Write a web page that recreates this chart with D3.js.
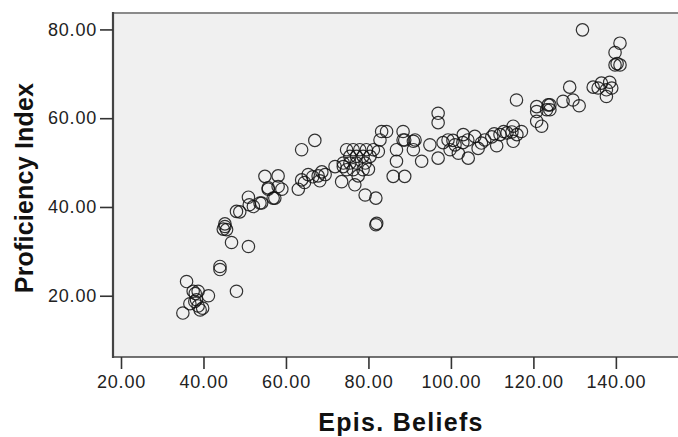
<!DOCTYPE html>
<html>
<head>
<meta charset="utf-8">
<script src="https://cdn.jsdelivr.net/npm/d3@7"></script>
<style>
  body { margin: 0; background: #fff; }
  text { font-family: "Liberation Sans", Arial, sans-serif; }
</style>
</head>
<body>
<div id="chart"></div>
<script>
// values: [Epis. Beliefs, Proficiency Index]
const lowGroup = [
  [35.9,23.2],[37.5,21],[38.7,21],[41.2,20],[35,16.1],[36.7,18.2],[37.9,18.7],[38.7,17.7],
  [39.8,17.2],[39.2,16.8],[38.3,19.1],[38.0,20.5],[48.0,21],[44,26.6],[44,25.9],[46.8,32],
  [50.9,31.1],[45.2,35.6],[45.6,34.9],[44.8,35],[45.2,36.2],[48,39],[48.8,38.9],[50.9,42.2],
  [51.1,40.5],[53.7,40.9],[56.9,42],[55.7,44.3],[58.1,44.6],[52.1,40.1],[54.1,40.9],[57.3,42],
  [59,44],[55.7,44],[54.9,46.9],[58.1,47]
]
const midGroup = [
  [63.8,52.9],[67,55],[63,44],[63.8,46.1],[65.4,47.3],[66.5,46.8],[67.8,47],[68.7,47.9],
  [69.5,47.3],[68.2,45.9],[64.5,45.5],[71.9,49.1],[73.9,49.1],[73.5,45.7],[76.7,45],[79.2,42.7],
  [81.8,42],[81.8,36],[82,36.3],
  [74.7,52.9],[76.3,52.9],[77.9,52.9],[79.5,52.9],[81.2,52.9],
  [75.5,51.4],[77.1,51.4],[78.7,51.4],[80.4,51.4],
  [73.9,49.9],[75.5,49.9],[77.1,49.9],[79.2,49.9],
  [74.7,48.4],[76.3,48.4],[78.7,48.4],[77.5,47],[80,48.5],
  [83.2,57],[84.4,57],[82.8,55.1],[82.4,52.5],
  [88.4,57],[86.8,52.9],[88.8,55.1],[86.8,50.3],[86,46.9],[88.8,46.9]
]
const highGroup = [
  [96.9,61.1],[96.9,59],[90.9,54.8],[88.4,55.1],[91.3,55.1],[90.9,52.9],[92.9,50.3],
  [94.9,54],[96.9,51],[98.1,54.5],[99.3,55.1],[101,54],[102.9,54.5],[104.1,55.1],[99.8,52.9],
  [100.5,55],[101.8,52.1],[104.2,51],[103,56.3],[105.8,55.9],[106.6,53.2],[107.4,54.4],
  [108.2,55.1],[109.9,55.8],[111.9,56.3],[113.6,56.7],[114.8,56.9],[116,56.3],[110.5,56.5],
  [112.8,57],[111.1,53.8],[115.1,54.8],[115.1,58.2],[117.1,57],[115.9,64.1],
  [120.8,62.6],[120.8,61.5],[123.6,63],[124,61.9],[120.8,59.3],[122,58.2],[127.2,63.8],
  [124,63],[123.2,61.9],[129.6,64.1],[131.1,62.8],[128.8,67],
  [131.9,79.9],[141,76.9],[139.8,74.8],[139.8,72],[141,72],[140.3,72.3],
  [134.5,67],[136.5,67.9],[138.5,68.1],[137.7,66.4],[137.7,64.9],[135.7,66.8],[139,66.8]
]
const xTicks = [20, 40, 60, 80, 100, 120, 140]
const yTicks = [20, 40, 60, 80]

const data = lowGroup.concat(midGroup, highGroup)

const W = 678, H = 437
const plotL = 113, plotT = 13, plotB = 357, plotR = 700

const svg = d3.select("#chart").append("svg")
    .attr("width", W)
    .attr("height", H)

const x = d3.scaleLinear().domain([18.06, 160.4]).range([plotL, plotR])
const y = d3.scaleLinear().domain([6.2, 83.7]).range([plotB, plotT])

// plot background
svg.append("rect")
    .attr("x", plotL).attr("y", plotT)
    .attr("width", plotR - plotL).attr("height", plotB - plotT)
    .attr("fill", "#f0f0f0")

// points
svg.append("g").selectAll("circle")
    .data(data)
    .enter().append("circle")
    .attr("cx", d => x(d[0]))
    .attr("cy", d => y(d[1]))
    .attr("r", 6.2)
    .attr("fill", "none")
    .attr("stroke", "#111")
    .attr("stroke-opacity", 0.85)
    .attr("stroke-width", 1.2)

// frame
svg.append("line").attr("x1", plotL).attr("x2", plotR).attr("y1", plotT).attr("y2", plotT)
    .attr("stroke", "#8a8a8a").attr("stroke-width", 2)
svg.append("line").attr("x1", plotL).attr("x2", plotR).attr("y1", plotB).attr("y2", plotB)
    .attr("stroke", "#444").attr("stroke-width", 1.6)
svg.append("line").attr("x1", plotL).attr("x2", plotL).attr("y1", plotT - 1).attr("y2", plotB + 1)
    .attr("stroke", "#444").attr("stroke-width", 2.2)

const fmt = d3.format(".2f")

const xAxis = svg.append("g")
    .attr("transform", `translate(0,${plotB})`)
    .call(d3.axisBottom(x).tickValues(xTicks).tickFormat(fmt).tickSize(12).tickPadding(6))
const yAxis = svg.append("g")
    .attr("transform", `translate(${plotL},0)`)
    .call(d3.axisLeft(y).tickValues(yTicks).tickFormat(fmt).tickSize(13).tickPadding(3))

xAxis.select(".domain").remove()
yAxis.select(".domain").remove()
svg.selectAll(".tick line").attr("stroke", "#333").attr("stroke-width", 1.6)
svg.selectAll(".tick text")
    .attr("fill", "#222")
    .style("font-size", "18px")
    .style("letter-spacing", "0.8px")
    .style("font-family", "'Liberation Sans', Arial, sans-serif")

// axis titles
svg.append("text")
    .attr("x", 401).attr("y", 431)
    .attr("text-anchor", "middle")
    .style("font-size", "25px").style("font-weight", "bold")
    .style("letter-spacing", "1.3px")
    .attr("fill", "#111")
    .text("Epis. Beliefs")

svg.append("text")
    .attr("transform", "translate(33,188) rotate(-90)")
    .attr("text-anchor", "middle")
    .style("font-size", "25px").style("font-weight", "bold")
    .style("letter-spacing", "0.2px")
    .attr("fill", "#111")
    .text("Proficiency Index")
</script>
</body>
</html>
